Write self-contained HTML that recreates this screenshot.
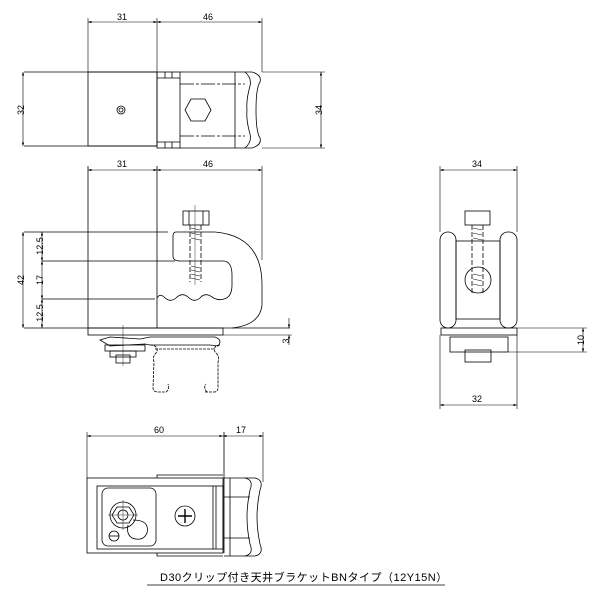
<!DOCTYPE html><html><head><meta charset="utf-8"><style>body{margin:0;background:#fff}svg{display:block}text{font-family:"Liberation Sans","Noto Sans CJK JP",sans-serif;font-size:9px;fill:#000;stroke:none}</style></head><body>
<svg width="600" height="600" viewBox="0 0 600 600" xmlns="http://www.w3.org/2000/svg" fill="none" stroke="#000" stroke-width="0.8">
<defs><marker id="a" viewBox="0 0 6 4" refX="6" refY="2" markerWidth="6" markerHeight="4" orient="auto-start-reverse"><path d="M0,0L6,2L0,4z" fill="#000" stroke="none"/></marker></defs>
<g stroke-width="0.6">
<line x1="88" y1="22" x2="157" y2="22" marker-start="url(#a)" marker-end="url(#a)"/>
<line x1="157" y1="22" x2="262" y2="22" marker-start="url(#a)" marker-end="url(#a)"/>
<line x1="88" y1="18" x2="88" y2="72"/><line x1="157" y1="18" x2="157" y2="72"/><line x1="262" y1="18" x2="262" y2="72"/>
<line x1="23" y1="72" x2="23" y2="146" marker-start="url(#a)" marker-end="url(#a)"/>
<line x1="321" y1="72" x2="321" y2="148" marker-start="url(#a)" marker-end="url(#a)"/>
<line x1="262" y1="72" x2="325" y2="72"/><line x1="262" y1="148" x2="325" y2="148"/>
</g>
<text x="117" y="20">31</text><text x="203" y="20">46</text>
<text x="20" y="114" transform="rotate(-90 20 110)" text-anchor="middle">32</text>
<text x="318" y="114" transform="rotate(-90 318 110)" text-anchor="middle">34</text>
<line x1="24" y1="72" x2="157" y2="72"/><line x1="24" y1="146" x2="157" y2="146"/>
<rect x="88" y="72" width="69" height="74"/>
<circle cx="121" cy="110" r="4"/><circle cx="121" cy="110" r="2"/>
<rect x="157" y="72" width="23" height="76"/>
<line x1="157" y1="78" x2="180" y2="78"/><line x1="157" y1="142" x2="180" y2="142"/>
<line x1="165" y1="72" x2="165" y2="78"/><line x1="172" y1="72" x2="172" y2="78"/><line x1="165" y1="142" x2="165" y2="148"/><line x1="172" y1="142" x2="172" y2="148"/>
<path d="M180,72 L252,72 Q262,75 260,82 Q256,88 256,110 Q256,132 260,138 Q262,145 252,148 L180,148"/>
<path d="M245,72 Q252,78 250,86 Q246,100 247,110 Q246,120 250,134 Q252,142 245,148"/>
<line x1="235" y1="72" x2="235" y2="148"/>
<line x1="180" y1="84" x2="245" y2="84" stroke-dasharray="14 2 3 2"/><line x1="180" y1="136" x2="245" y2="136" stroke-dasharray="14 2 3 2"/>
<polygon points="191,99 205,99 211,110 205,121 191,121 185,110"/>
<g stroke-width="0.6">
<line x1="88" y1="170" x2="157" y2="170" marker-start="url(#a)" marker-end="url(#a)"/>
<line x1="157" y1="170" x2="262" y2="170" marker-start="url(#a)" marker-end="url(#a)"/>
<line x1="262" y1="166" x2="262" y2="260"/>
<line x1="23" y1="232" x2="23" y2="328" marker-start="url(#a)" marker-end="url(#a)"/>
<line x1="42" y1="232" x2="42" y2="261" marker-start="url(#a)" marker-end="url(#a)"/>
<line x1="42" y1="261" x2="42" y2="299" marker-start="url(#a)" marker-end="url(#a)"/>
<line x1="42" y1="299" x2="42" y2="328" marker-start="url(#a)" marker-end="url(#a)"/>
<line x1="289" y1="318" x2="289" y2="328" marker-end="url(#a)"/><line x1="289" y1="345" x2="289" y2="335" marker-end="url(#a)"/>
<line x1="223" y1="335" x2="292" y2="335"/>
</g>
<text x="117" y="167">31</text><text x="203" y="167">46</text>
<text x="20" y="284" transform="rotate(-90 20 280)" text-anchor="middle">42</text>
<text x="39" y="250" transform="rotate(-90 39 246)" text-anchor="middle">12.5</text>
<text x="39" y="284" transform="rotate(-90 39 280)" text-anchor="middle">17</text>
<text x="39" y="317" transform="rotate(-90 39 313)" text-anchor="middle">12.5</text>
<text x="286" y="344" transform="rotate(-90 286 341)" text-anchor="middle">3</text>
<line x1="88" y1="166" x2="88" y2="328"/><line x1="157" y1="166" x2="157" y2="328"/>
<line x1="24" y1="232" x2="168" y2="232"/><line x1="42" y1="261" x2="175" y2="261"/><line x1="42" y1="299" x2="155" y2="299"/>
<line x1="24" y1="328" x2="290" y2="328"/>
<path d="M176,232 L215,232 Q262,236 262,285 L262,305 Q260,325 232,328"/>
<path d="M176,232 Q173,232 173,236 L173,256 Q173,261 180,261 L224,261 Q232,262 232,275 L232,285 Q232,297 224,299 Q218,301 212,297 Q205,292 200,298 Q194,303 188,297 Q182,292 176,298 Q170,303 164,297 Q160,293 157,298"/>
<rect x="183" y="211" width="26" height="14"/><line x1="189" y1="211" x2="189" y2="225"/><line x1="203" y1="211" x2="203" y2="225"/>
<line x1="190" y1="225" x2="190" y2="282" stroke-dasharray="5 2"/><line x1="201" y1="225" x2="201" y2="282" stroke-dasharray="5 2"/>
<path d="M191,228 L200,230 M191,233 L200,235 M191,238 L200,240 M191,266 L200,268 M191,270 L200,272 M191,274 L200,276 M191,278 L200,280" stroke-width="0.5"/>
<line x1="195" y1="205" x2="195" y2="285" stroke-width="0.4"/>
<rect x="88" y="328" width="135" height="7"/>
<path d="M100,340 L110,337 L140,339 L150,337 L215,337 Q223,340 218,346 L210,345 L150,345 L145,344 L110,346 Z"/>
<rect x="105" y="345" width="40" height="6"/><rect x="110" y="351" width="26" height="6"/><rect x="116" y="355" width="14" height="8"/>
<line x1="123" y1="325" x2="123" y2="366" stroke-width="0.4"/>
<path d="M150,345 Q158,345 157,352 Q152,356 154,362 L153,388 Q153,392 158,392 L166,392 Q170,389 168,384 M207,392 Q203,388 206,384 M205,392 L214,392 Q218,392 218,388 L218,362 Q220,356 215,352 Q213,345 220,345" stroke-dasharray="3 1"/>
<line x1="155" y1="349" x2="215" y2="349" stroke-dasharray="3 1"/>
<g stroke-width="0.6">
<line x1="440" y1="170" x2="517" y2="170" marker-start="url(#a)" marker-end="url(#a)"/>
<line x1="440" y1="166" x2="440" y2="232"/><line x1="517" y1="166" x2="517" y2="232"/>
<line x1="440" y1="405" x2="517" y2="405" marker-start="url(#a)" marker-end="url(#a)"/>
<line x1="440" y1="335" x2="440" y2="409"/><line x1="517" y1="335" x2="517" y2="409"/>
<line x1="583" y1="328" x2="583" y2="352" marker-start="url(#a)" marker-end="url(#a)"/>
<line x1="517" y1="328" x2="587" y2="328"/><line x1="508" y1="352" x2="587" y2="352"/>
</g>
<text x="472" y="167">34</text><text x="472" y="402">32</text>
<text x="580" y="344" transform="rotate(-90 580 340)" text-anchor="middle">10</text>
<rect x="440" y="232" width="16" height="96" rx="8"/><rect x="500" y="232" width="17" height="96" rx="8"/>
<rect x="456" y="241" width="44" height="78"/>
<rect x="465" y="211" width="25" height="14"/>
<line x1="472" y1="225" x2="472" y2="295" stroke-dasharray="5 2"/><line x1="483" y1="225" x2="483" y2="295" stroke-dasharray="5 2"/>
<path d="M473,228 L482,230 M473,233 L482,235 M473,238 L482,240 M473,274 L482,276 M473,279 L482,281 M473,284 L482,286" stroke-width="0.5"/>
<circle cx="478" cy="280" r="13"/>
<rect x="441" y="328" width="76" height="7"/><rect x="450" y="337" width="58" height="15"/><rect x="465" y="350" width="26" height="12"/>
<g stroke-width="0.6">
<line x1="87" y1="436" x2="223" y2="436" marker-start="url(#a)" marker-end="url(#a)"/>
<line x1="223" y1="436" x2="263" y2="436" marker-start="url(#a)" marker-end="url(#a)"/>
<line x1="87" y1="432" x2="87" y2="478"/><line x1="263" y1="432" x2="263" y2="482"/>
</g>
<text x="154" y="433">60</text><text x="236" y="433">17</text>
<line x1="224" y1="432" x2="224" y2="553"/>
<rect x="87" y="478" width="136" height="75"/>
<path d="M157,478 L157,475 L223,475 M157,553 L157,556 L223,556"/>
<rect x="97" y="486" width="126" height="63"/>
<rect x="102" y="488" width="54" height="58" rx="6"/>
<line x1="213" y1="486" x2="213" y2="549"/><line x1="216" y1="486" x2="216" y2="549"/>
<path d="M224,478 L245,478 Q254,480 250,490 Q247,505 247,517 Q247,530 250,544 Q254,554 245,556 L224,556"/>
<path d="M245,478 L255,478 Q264,480 260,490 Q257,505 257,517 Q257,530 260,544 Q264,554 255,556 L245,556"/>
<line x1="230" y1="478" x2="230" y2="556"/>
<line x1="224" y1="497" x2="250" y2="497"/><line x1="224" y1="538" x2="250" y2="538"/>
<circle cx="123" cy="515" r="13"/><polygon points="117,507 129,507 134,515 129,523 117,523 112,515"/><circle cx="123" cy="515" r="5"/>
<line x1="108" y1="515" x2="138" y2="515" stroke-width="0.4"/><line x1="123" y1="500" x2="123" y2="530" stroke-width="0.4"/>
<path d="M133,520 Q150,520 147,533 Q143,542 132,538 Q126,534 128,525"/>
<circle cx="114" cy="536" r="5"/><line x1="109" y1="536" x2="119" y2="536"/>
<circle cx="185" cy="516" r="10"/><path d="M185,509 L185,523 M178,516 L192,516" stroke-width="1.4"/>
<text x="160" y="581" style="font-size:11px;letter-spacing:0.5px">D30クリップ付き天井ブラケットBNタイプ（12Y15N）</text>
<line x1="147" y1="585" x2="445" y2="585"/>
</svg></body></html>
